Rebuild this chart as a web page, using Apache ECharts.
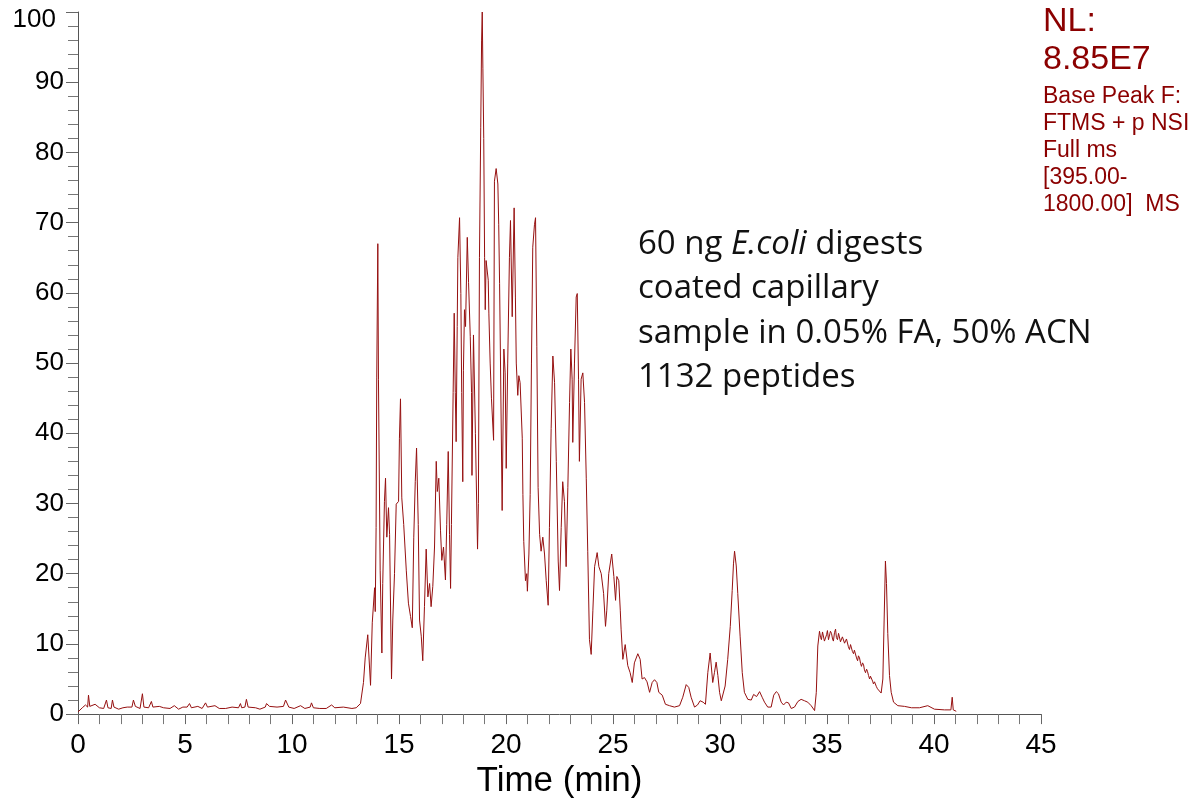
<!DOCTYPE html>
<html>
<head>
<meta charset="utf-8">
<script src="https://cdn.jsdelivr.net/npm/echarts@6/dist/echarts.min.js"></script>
<style>
html,body{margin:0;padding:0;background:#fff;}
#chart{width:1199px;height:804px;}
</style>
</head>
<body>
<div id="chart"></div>
<script>
// Time (min) and relative abundance (%)
const timeMin = [
0.00,0.20,0.35,0.45,0.49,0.55,0.80,1.00,1.20,1.28,1.33,1.40,1.55,1.61,1.68,1.90,2.10,2.30,2.52,2.59,2.68,2.90,2.96,3.01,3.08,3.30,3.38,3.43,3.50,3.80,4.00,4.30,4.50,4.70,4.90,5.10,5.21,5.30,5.60,5.80,5.96,6.05,6.40,6.60,6.90,7.20,7.50,7.59,7.65,7.80,7.87,7.95,8.30,8.50,8.75,8.81,8.95,9.30,9.60,9.70,9.85,10.10,10.40,10.60,10.85,10.91,11.00,11.30,11.60,11.85,12.00,12.40,12.80,13.00,13.20,13.29,
13.34,13.42,13.54,13.67,13.75,13.86,13.89,13.93,13.96,14.01,14.04,14.12,14.20,14.24,14.32,14.37,14.43,14.51,14.56,14.65,14.71,14.79,14.87,14.98,15.02,15.07,15.13,15.22,15.34,15.44,15.54,15.62,15.69,15.76,15.82,15.90,15.96,16.04,16.11,16.19,16.27,16.35,16.43,16.50,16.58,16.66,16.74,16.79,16.86,16.94,17.00,17.08,17.17,17.23,17.30,17.36,17.41,17.45,17.53,17.58,17.63,17.67,17.72,17.75,17.83,17.89,17.93,17.98,18.01,18.06,18.11,18.19,18.25,18.33,18.39,18.41,18.48,18.57,18.67,18.71,18.76,18.82,18.86,18.89,18.92,18.96,19.00,19.03,19.07,19.17,19.20,19.26,19.32,19.42,19.46,19.54,19.62,19.66,19.70,19.74,19.82,19.90,19.96,20.01,20.08,20.16,20.21,20.29,20.38,20.44,20.48,20.55,20.60,20.66,20.76,20.79,20.83,20.91,20.97,21.00,21.07,21.13,21.19,21.25,21.33,21.38,21.44,21.50,21.57,21.64,21.72,21.80,21.88,21.97,22.03,22.11,22.19,22.27,22.35,22.44,22.50,22.58,22.65,22.73,22.81,22.89,22.97,23.03,23.09,23.12,23.20,23.28,23.33,23.39,23.43,23.51,23.59,23.67,23.75,23.82,23.90,23.98,24.06,24.14,24.26,24.34,24.45,24.56,24.65,24.71,24.80,24.94,25.04,25.12,25.18,25.27,25.34,25.38,25.46,25.57,25.69,25.80,25.90,26.00,26.16,26.27,26.36,26.47,26.59,26.71,26.83,26.94,27.05,27.14,27.30,27.45,27.64,27.87,28.11,28.26,28.42,28.54,28.65,28.81,28.95,29.07,29.21,29.32,29.43,29.54,29.66,29.74,29.82,29.90,29.98,30.06,30.13,30.24,30.36,30.48,30.57,30.63,30.68,30.76,30.83,30.94,31.04,31.14,31.30,31.46,31.57,31.71,31.85,31.97,32.08,32.23,32.39,32.51,32.63,32.73,32.86,32.97,33.09,33.20,33.33,33.48,33.64,33.79,33.95,34.10,34.26,34.42,34.50,34.57,34.65,34.70,34.74,34.79,34.84,34.88,34.93,34.98,35.02,35.07,35.12,35.16,35.21,35.26,35.30,35.35,35.40,35.44,35.49,35.54,35.58,35.63,35.68,35.72,35.77,35.82,35.86,35.91,35.96,36.00,36.05,36.10,36.14,36.19,36.24,36.28,36.33,36.38,36.43,36.47,36.52,36.57,36.61,36.66,36.71,36.75,36.80,36.85,36.89,36.94,36.99,37.03,37.08,37.13,37.17,37.22,37.27,37.31,37.36,37.41,37.45,37.53,37.61,37.67,37.73,37.78,37.84,37.92,38.00,38.11,38.31,38.62,38.95,39.32,39.71,40.02,40.49,40.79,40.85,40.90,41.04
];
const relAbundance = [
0.3,0.9,1.3,1.0,2.7,1.1,1.4,0.9,0.8,0.7,2.0,0.9,0.8,2.0,1.0,0.7,0.9,1.0,1.0,2.0,1.1,0.8,1.0,2.9,1.0,0.9,1.0,1.8,1.0,1.1,0.9,0.8,1.2,0.7,1.0,1.0,1.5,0.9,1.1,0.8,1.6,1.0,1.2,0.8,0.8,1.0,0.9,1.5,0.9,1.0,2.1,1.0,0.9,0.7,1.0,1.5,1.1,1.0,1.1,2.0,1.0,0.8,1.2,0.8,1.0,1.6,0.9,0.8,0.8,1.3,0.9,1.0,0.8,0.9,1.5,1.3,
4.5,8.0,11.3,4.1,13.0,18.0,14.6,26.6,48.0,67.0,47.7,20.5,8.7,18.6,30.3,33.6,25.2,29.4,25.6,5.0,13.4,20.0,29.9,30.3,39.3,44.9,30.8,27.0,20.5,15.8,13.9,12.3,25.2,33.1,37.9,27.0,13.4,11.1,7.6,15.3,23.5,16.7,18.6,15.3,18.2,23.8,36.0,31.7,33.6,26.1,21.9,23.8,19.1,27.0,37.4,25.6,17.9,27.0,45.8,57.1,45.8,38.8,55.2,65.0,70.7,59.9,45.8,33.1,48.9,57.6,55.2,67.9,61.5,53.8,45.8,34.0,54.0,40.0,23.5,30.0,65.0,83.6,96.0,100.0,92.0,82.0,65.0,57.6,64.6,61.8,57.0,50.0,45.0,39.0,75.9,77.7,75.5,69.7,61.3,51.0,29.0,52.0,48.6,35.0,50.0,65.0,70.3,56.6,72.1,59.4,50.0,45.4,48.2,47.2,39.3,31.3,24.6,19.0,20.0,17.5,22.8,31.3,50.0,66.5,69.7,70.7,52.4,32.3,25.6,23.2,25.2,22.8,19.0,15.5,26.6,40.7,51.0,47.2,36.0,21.8,17.6,26.6,33.1,30.3,21.0,32.3,44.4,52.0,47.7,38.7,50.0,59.4,59.9,47.7,36.0,47.7,48.6,44.4,33.6,23.2,10.6,8.5,14.8,21.0,23.0,21.0,20.0,17.2,12.5,14.8,20.0,22.8,19.6,16.2,19.6,19.0,14.8,12.0,7.8,9.9,6.9,5.9,4.5,7.3,8.6,7.8,5.0,5.2,4.6,3.1,4.5,4.9,4.5,3.1,2.7,1.4,1.2,1.0,1.2,2.4,4.2,3.8,2.4,1.0,1.3,1.9,1.7,1.4,5.9,8.7,4.5,5.9,7.4,5.5,3.1,1.9,2.1,4.0,7.8,12.5,17.6,21.4,23.2,21.1,17.2,11.1,5.9,3.1,2.1,2.0,2.8,2.5,3.2,2.4,1.7,1.0,1.0,2.7,3.2,2.9,1.7,1.3,1.7,1.6,0.8,1.0,1.8,2.1,1.9,1.7,1.2,0.5,3.1,9.7,11.8,10.9,10.6,11.7,11.6,10.4,10.3,11.3,11.9,10.6,10.5,11.8,11.5,10.7,10.4,11.6,12.1,10.9,10.6,11.5,11.4,10.3,10.2,11.0,11.2,10.1,10.0,10.7,10.8,9.6,9.2,9.9,9.8,8.9,8.6,9.1,8.9,8.0,7.6,8.3,8.0,7.2,6.8,7.3,7.0,6.3,5.9,6.4,6.1,5.5,5.0,5.4,5.2,4.7,4.3,4.6,4.4,3.9,3.6,3.8,3.4,3.0,5.0,13.4,21.8,18.6,11.5,5.5,3.1,1.7,1.2,1.1,0.9,0.9,1.2,0.7,0.6,0.6,2.4,0.6,0.4
];
const xTicks = {min: 0, max: 45, step: 5};
const yTicks = {min: 0, max: 100, step: 10};
const annotationLines = ['60 ng {i|E.coli} digests', 'coated capillary', 'sample in 0.05% FA, 50% ACN', '1132 peptides'];
const infoLines = ['Base Peak F:', 'FTMS + p NSI', 'Full ms', '[395.00-', '1800.00]  MS'];
const nlLabel = 'NL:';
const nlValue = '8.85E7';

const seriesData = timeMin.map((t, i) => [t, relAbundance[i]]);
const red = '#8b0000';
const chart = echarts.init(document.getElementById('chart'), null, {renderer: 'canvas'});

const infoGraphics = infoLines.map((s, i) => ({
  type: 'text', x: 1043, y: 97 + i * 27,
  style: {text: s, font: '23px "Liberation Sans", Arial, sans-serif', fill: red, textVerticalAlign: 'middle'}
}));

chart.setOption({
  animation: false,
  backgroundColor: '#fff',
  grid: {left: 78, right: 158, top: 12, bottom: 82, containLabel: false},
  xAxis: {
    type: 'value', min: xTicks.min, max: xTicks.max, interval: xTicks.step,
    name: 'Time (min)', nameLocation: 'middle', nameGap: 46,
    nameTextStyle: {fontSize: 35, color: '#000', fontFamily: '"Liberation Sans", Arial, sans-serif'},
    axisLine: {show: true, lineStyle: {color: '#555', width: 1}},
    axisTick: {show: true, length: 10, lineStyle: {color: '#666'}},
    minorTick: {show: true, splitNumber: 5, length: 10, lineStyle: {color: '#777'}},
    axisLabel: {fontSize: 28, color: '#000', margin: 17, fontFamily: '"Liberation Sans", Arial, sans-serif'},
    splitLine: {show: false}, minorSplitLine: {show: false}
  },
  yAxis: {
    type: 'value', min: yTicks.min, max: yTicks.max, interval: yTicks.step,
    axisLine: {show: true, lineStyle: {color: '#555', width: 1}},
    axisTick: {show: true, length: 12, lineStyle: {color: '#666'}},
    minorTick: {show: true, splitNumber: 5, length: 10, lineStyle: {color: '#777'}},
    axisLabel: {
      fontSize: 26, color: '#000', margin: 14, fontFamily: '"Liberation Sans", Arial, sans-serif',
      formatter: v => (v === yTicks.max ? '{top|' + v + '}' : String(v)),
      rich: {top: {fontSize: 26, color: '#000', fontFamily: '"Liberation Sans", Arial, sans-serif', padding: [16, 8, 0, 0]}}
    },
    splitLine: {show: false}, minorSplitLine: {show: false}
  },
  series: [{
    type: 'line', data: seriesData, showSymbol: false, symbol: 'none',
    lineStyle: {color: '#961010', width: 1}, sampling: null, clip: false
  }],
  graphic: [
    {type: 'text', x: 1043, y: 22, style: {text: nlLabel, font: '34px "Liberation Sans", Arial, sans-serif', fill: red, textVerticalAlign: 'middle'}},
    {type: 'text', x: 1043, y: 60, style: {text: nlValue, font: '34px "Liberation Sans", Arial, sans-serif', fill: red, textVerticalAlign: 'middle'}},
    ...infoGraphics,
    {type: 'text', x: 638, y: 222, style: {
      text: annotationLines.join('\n'),
      font: '33px "Open Sans", sans-serif', fill: '#111', lineHeight: 44.5,
      rich: {i: {fontStyle: 'italic', fontSize: 33, fontFamily: '"Open Sans", sans-serif', lineHeight: 44.5, fill: '#111'}}
    }}
  ]
});
</script>
</body>
</html>
